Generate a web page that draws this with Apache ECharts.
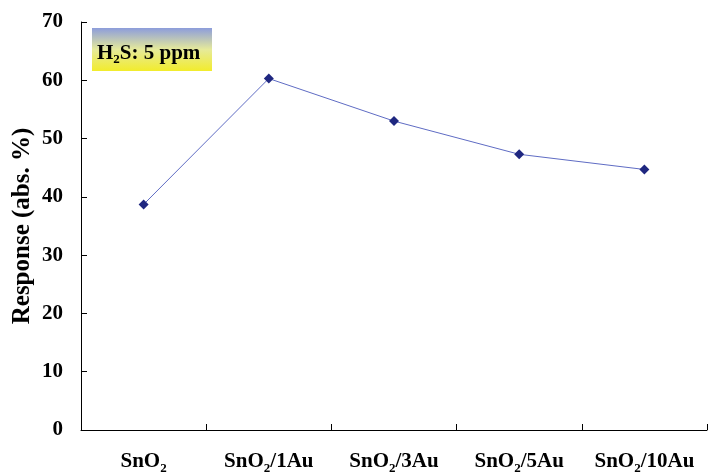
<!DOCTYPE html>
<html>
<head>
<meta charset="utf-8">
<script src="https://cdn.jsdelivr.net/npm/echarts@6/dist/echarts.min.js"></script>
<style>
  html, body { margin: 0; padding: 0; background: #fff; }
  #chart { width: 710px; height: 472px; }
</style>
</head>
<body>
<div id="chart"></div>
<script>
// 样品名称 (rich text, {s|2} = 下标)
var categories = ['SnO{s|2}', 'SnO{s|2}/1Au', 'SnO{s|2}/3Au', 'SnO{s|2}/5Au', 'SnO{s|2}/10Au'];
// 响应值 (abs. %)
var response = [38.7, 60.3, 53.0, 47.3, 44.7];
var yTicks = [0, 10, 20, 30, 40, 50, 60, 70];

var font = 'Liberation Serif, Times New Roman, serif';
var chart = echarts.init(document.getElementById('chart'));

var option = {
  backgroundColor: '#fff',
  animation: false,
  grid: {
    left: 81,
    right: 3,
    top: 22,
    bottom: 42,
    outerBoundsMode: 'none'
  },
  xAxis: {
    type: 'category',
    data: categories,
    boundaryGap: true,
    axisLine: { lineStyle: { color: '#000', width: 1 } },
    axisTick: { show: true, inside: true, length: 6, interval: 0, lineStyle: { color: '#000' } },
    axisLabel: {
      interval: 0,
      margin: 19,
      color: '#000',
      fontFamily: font,
      fontWeight: 'bold',
      fontSize: 21,
      rich: {
        s: { fontFamily: font, fontWeight: 'bold', fontSize: 13, padding: [13, 0, 0, 0], color: '#000' }
      }
    },
    splitLine: { show: false }
  },
  yAxis: {
    type: 'value',
    min: yTicks[0],
    max: yTicks[yTicks.length - 1],
    interval: 10,
    name: 'Response (abs. %)',
    nameLocation: 'middle',
    nameGap: 46,
    nameMoveOverlap: false,
    nameTextStyle: { color: '#000', fontFamily: font, fontWeight: 'bold', fontSize: 25 },
    axisLine: { show: true, lineStyle: { color: '#000', width: 1 } },
    axisTick: { show: true, inside: true, length: 6, lineStyle: { color: '#000' } },
    axisLabel: {
      margin: 18,
      color: '#000',
      fontFamily: font,
      fontWeight: 'bold',
      fontSize: 21
    },
    splitLine: { show: false }
  },
  series: [
    {
      type: 'line',
      data: response,
      symbol: 'diamond',
      symbolSize: 10,
      lineStyle: { color: '#5f6cc4', width: 1 },
      itemStyle: { color: '#1f2780' }
    }
  ],
  graphic: [
    {
      type: 'group',
      left: 92,
      top: 28,
      children: [
        {
          type: 'rect',
          shape: { x: 0, y: 0, width: 120, height: 43 },
          style: {
            fill: new echarts.graphic.LinearGradient(0, 0, 0, 1, [
              { offset: 0, color: '#8d9ddb' },
              { offset: 0.5, color: '#e6ea9a' },
              { offset: 1, color: '#f2ec2c' }
            ])
          }
        },
        {
          type: 'text',
          x: 5,
          y: 13,
          style: {
            text: 'H{s|2}S: 5 ppm',
            fill: '#000',
            font: 'bold 21px ' + font,
            rich: {
              s: { font: 'bold 13px ' + font, padding: [12, 0, 0, 0], fill: '#000' }
            }
          }
        }
      ]
    }
  ]
};

chart.setOption(option);
</script>
</body>
</html>
